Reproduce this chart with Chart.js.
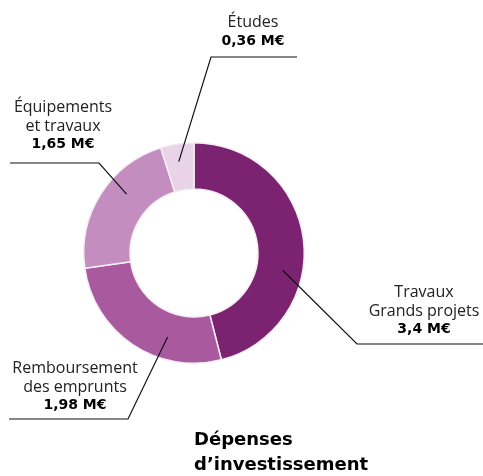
<!DOCTYPE html>
<html><head><meta charset="utf-8">
<script src="https://cdn.jsdelivr.net/npm/chart.js@4/dist/chart.umd.min.js"></script>
<style>html,body{margin:0;padding:0;background:#fff;}canvas{display:block;}</style>
</head><body>
<canvas id="c" width="483" height="476"></canvas>
<script>
// Data
const categories = ["Travaux Grands projets", "Remboursement des emprunts", "Équipements et travaux", "Études"];
const labelLines = [["Travaux", "Grands projets"], ["Remboursement", "des emprunts"], ["Équipements", "et travaux"], ["Études"]];
const values = [3.4, 1.98, 1.65, 0.36];
const valueLabels = ["3,4 M€", "1,98 M€", "1,65 M€", "0,36 M€"];
const colors = ["#7b2270", "#a95a9f", "#c48dc0", "#e8d4e6"];
const titleLines = ["Dépenses", "d’investissement"];

// Label layout (style only): anchor fraction along arc, elbow point, end of horizontal rule, text center & first baseline
const layout = [
  {frac: 0.61, rfrac: 0.57, elbow: [357, 344], end: 483, tx: 424, ty: 297},
  {frac: 0.33, rfrac: 0.52, elbow: [128, 419], end: 9, tx: 75, ty: 373},
  {frac: 0.61, rfrac: 0.55, elbow: [99, 163], end: 10, tx: 63, ty: 112},
  {frac: 0.46, rfrac: 0.62, elbow: [211, 57], end: 297, tx: 253, ty: 27}
];
const REG = '16px "Open Sans"';
const BOLD = 'bold 14px "DejaVu Sans"';

const labelPlugin = {
  id: 'leaders',
  afterDraw(chart) {
    const ctx = chart.ctx;
    const meta = chart.getDatasetMeta(0);
    ctx.save();
    meta.data.forEach((arc, i) => {
      const L = layout[i];
      const p = arc.getProps(['x','y','startAngle','endAngle','innerRadius','outerRadius'], true);
      const a = p.startAngle + L.frac * (p.endAngle - p.startAngle);
      const r = p.innerRadius + L.rfrac * (p.outerRadius - p.innerRadius);
      const ax = p.x + r * Math.cos(a), ay = p.y + r * Math.sin(a);
      ctx.strokeStyle = '#111';
      ctx.lineWidth = 1.2;
      ctx.beginPath();
      ctx.moveTo(ax, ay);
      ctx.lineTo(L.elbow[0], L.elbow[1]);
      ctx.lineTo(L.end, L.elbow[1]);
      ctx.stroke();
      ctx.fillStyle = '#222';
      ctx.textAlign = 'center';
      ctx.textBaseline = 'alphabetic';
      let y = L.ty;
      ctx.font = REG;
      labelLines[i].forEach(t => { ctx.fillText(t, L.tx, y); y += 18.5; });
      ctx.font = BOLD;
      ctx.fillStyle = '#000';
      ctx.fillText(valueLabels[i], L.tx, y - 1);
    });
    ctx.fillStyle = '#000';
    ctx.textAlign = 'left';
    ctx.font = 'bold 18px "DejaVu Sans"';
    ctx.fillText(titleLines[0], 194, 445);
    ctx.fillText(titleLines[1], 194, 470);
    ctx.restore();
  }
};

new Chart(document.getElementById('c'), {
  type: 'doughnut',
  data: {
    labels: categories,
    datasets: [{
      data: values,
      backgroundColor: colors,
      borderColor: '#f4eef3',
      borderWidth: 1.5,
      hoverOffset: 0
    }]
  },
  options: {
    responsive: false,
    animation: false,
    cutout: '58%',
    layout: {padding: {left: 83, right: 178, top: 142, bottom: 112}},
    plugins: {legend: {display: false}, tooltip: {enabled: false}, title: {display: false}}
  },
  plugins: [labelPlugin]
});
</script>
</body></html>
